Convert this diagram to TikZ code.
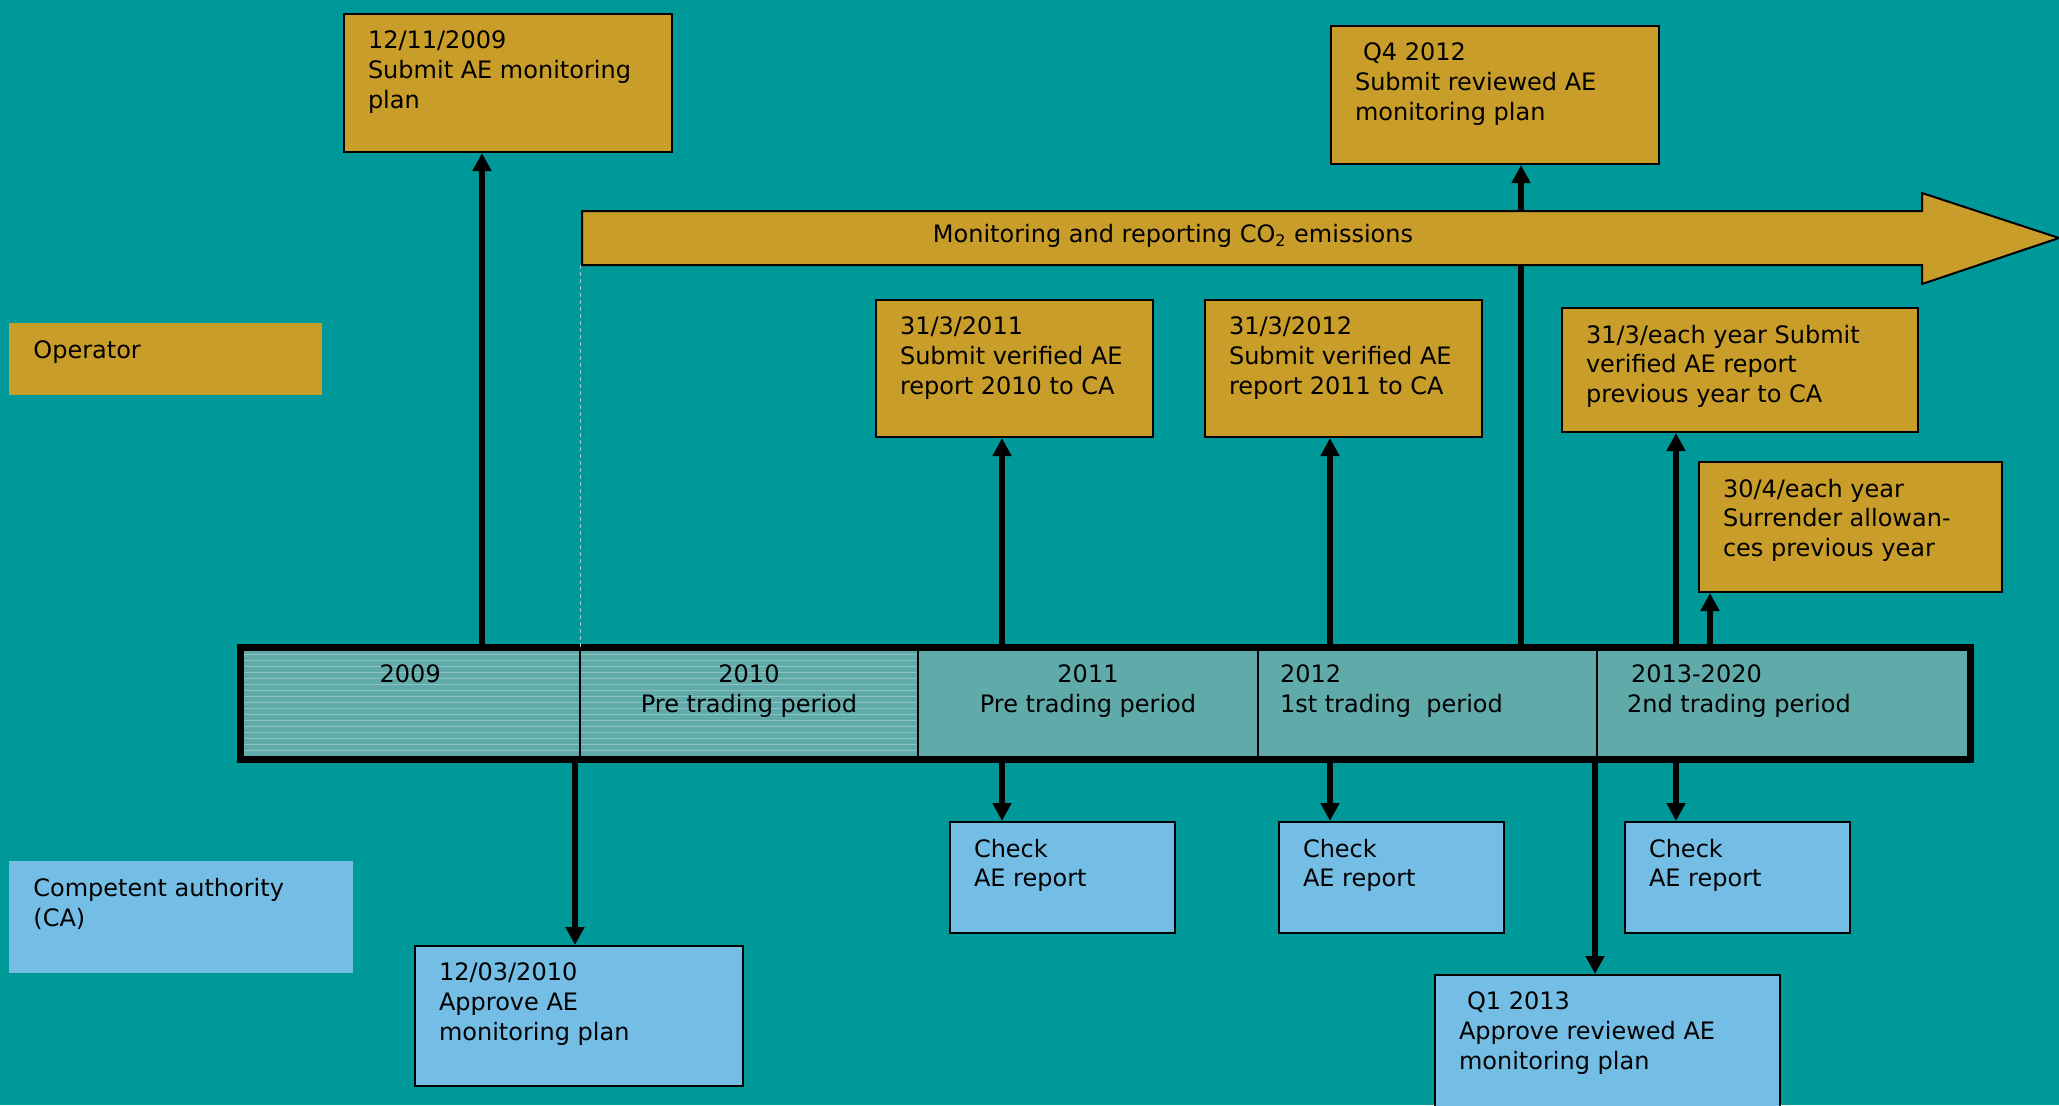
\documentclass[tikz,border=0pt]{standalone}
\usepackage{fontspec}
\setmainfont{DejaVu Sans}
\usetikzlibrary{arrows.meta,patterns}
\definecolor{sea}{RGB}{0,153,153}
\definecolor{gold}{RGB}{201,157,41}
\definecolor{sky}{RGB}{116,190,230}
\definecolor{cellc}{RGB}{96,170,170}
\definecolor{hatchc}{RGB}{140,196,196}
\definecolor{guidec}{RGB}{175,200,200}
\newcommand\evfont{\fontsize{12}{14.8}\selectfont}
\newcommand\pbox[3]{\parbox[c][#2][t]{#1}{\raggedright #3}}
\newcommand\cbox[3]{\parbox[c][#2][t]{#1}{\centering #3}}
\begin{document}
\begin{tikzpicture}[x=0.5pt,y=-0.5pt]
\tikzstyle{evt}=[draw, line width=1pt, fill=gold, anchor=north west, inner xsep=12pt, inner ysep=8.5pt, font=\evfont]
\tikzstyle{chk}=[evt, fill=sky]
\tikzstyle{role}=[anchor=north west, inner xsep=12pt, inner ysep=8.5pt, font=\evfont]
\tikzstyle{cell}=[draw, line width=1pt, fill=cellc, anchor=north west, outer sep=0pt, inner xsep=11pt, inner ysep=8.75pt, font=\evfont]
\tikzstyle{hatched}=[preaction={fill=cellc}, pattern=horizontal lines, pattern color=hatchc]
\tikzstyle{conn}=[line width=2.6pt, -{Triangle[length=9pt,width=9pt]}]
\useasboundingbox (0,0) rectangle (2059,1105);
\fill[sea] (0,0) rectangle (2059,1105);
% roles
\node[role, fill=gold] (op) at (9,323) {\pbox{132.5pt}{19pt}{Operator}};
\node[role, fill=sky] (ca) at (9,861) {\pbox{148pt}{39pt}{Competent authority\\(CA)}};
% operator tasks
\node[evt] (sub09) at (343,13) {\pbox{140pt}{52pt}{12/11/2009\\Submit AE monitoring\\plan}};
\node[evt] (rev12) at (1330,25) {\pbox{140pt}{52pt}{\hspace*{4pt}Q4 2012\\Submit reviewed AE\\monitoring plan}};
\node[evt] (rep10) at (875,299) {\pbox{114.5pt}{51.5pt}{31/3/2011\\Submit verified AE\\report 2010 to CA}};
\node[evt] (rep11) at (1204,299) {\pbox{114.5pt}{51.5pt}{31/3/2012\\Submit verified AE\\report 2011 to CA}};
\node[evt] (repyr) at (1561,307) {\pbox{154pt}{45pt}{31/3/each year Submit\\verified AE report\\previous year to CA}};
\node[evt] (surr) at (1698,461) {\pbox{127.5pt}{48pt}{30/4/each year\\Surrender allowan-\\ces previous year}};
% authority tasks
\node[chk] (app10) at (414,945) {\pbox{140pt}{53pt}{12/03/2010\\Approve AE\\monitoring plan}};
\node[chk] (chk11) at (949,821) {\pbox{88.5pt}{38.5pt}{Check\\AE report}};
\node[chk] (chk12) at (1278,821) {\pbox{88.5pt}{38.5pt}{Check\\AE report}};
\node[chk] (chkyr) at (1624,821) {\pbox{88.5pt}{38.5pt}{Check\\AE report}};
\node[chk] (app13) at (1434,974) {\pbox{148.5pt}{61pt}{\hspace*{4pt}Q1 2013\\Approve reviewed AE\\monitoring plan}};
% timeline
\node[cell, hatched] (y09) at (240.5,647.5) {\cbox{147.75pt}{38.5pt}{2009}};
\node[cell, hatched] (y10) at (580,647.5) {\cbox{147pt}{38.5pt}{2010\\Pre trading period}};
\node[cell] (y11) at (918,647.5) {\cbox{148pt}{38.5pt}{2011\\Pre trading period}};
\node[cell] (y12) at (1258,647.5) {\pbox{147.5pt}{38.5pt}{2012\\1st trading\ \ period}};
\node[cell, inner xsep=15pt] (y13) at (1597,647.5) {\pbox{156.5pt}{38.5pt}{\hspace*{2pt}2013-2020\\2nd trading period}};
\node[draw, line width=3.5pt, anchor=north west, outer sep=0pt, minimum width=864.75pt, minimum height=56pt, inner sep=0pt] (bar) at (240.5,647.5) {};
% connectors
\coordinate (xa) at (482,0);
\coordinate (xb) at (1002,0);
\coordinate (xc) at (1330,0);
\coordinate (xd) at (1521,0);
\coordinate (xe) at (1676,0);
\coordinate (xf) at (1710,0);
\coordinate (xg) at (575,0);
\coordinate (xh) at (1595,0);
\draw[conn] (bar.north -| xa) -- (sub09.south -| xa);
\draw[conn] (bar.north -| xb) -- (rep10.south -| xb);
\draw[conn] (bar.north -| xc) -- (rep11.south -| xc);
\draw[conn] (bar.north -| xd) -- (rev12.south -| xd);
\draw[conn] (bar.north -| xe) -- (repyr.south -| xe);
\draw[conn] (bar.north -| xf) -- (surr.south -| xf);
\draw[conn] (bar.south -| xg) -- (app10.north -| xg);
\draw[conn] (bar.south -| xb) -- (chk11.north -| xb);
\draw[conn] (bar.south -| xc) -- (chk12.north -| xc);
\draw[conn] (bar.south -| xh) -- (app13.north -| xh);
\draw[conn] (bar.south -| xe) -- (chkyr.north -| xe);
% monitoring period
\draw[line width=1pt, fill=gold] (582,211) -- (1922,211) -- (1922,193) -- (2059,238) -- (1922,284) -- (1922,265) -- (582,265) -- cycle;
\node[font=\evfont] (mon) at (1173,236) {Monitoring and reporting CO\textsubscript{2} emissions};
\coordinate (ms) at (580,265);
\draw[guidec, line width=0.4pt, dash pattern=on 2pt off 1.5pt] (ms) -- (ms |- bar.north);
\end{tikzpicture}
\end{document}
